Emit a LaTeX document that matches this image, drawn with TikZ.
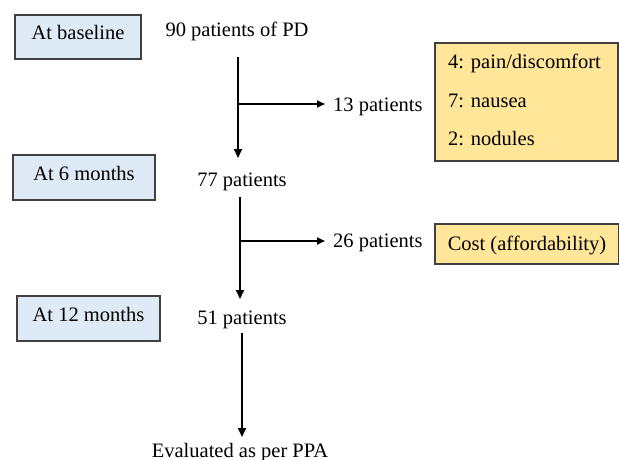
\documentclass[tikz,border=0pt]{standalone}
\usepackage{fontspec}
\setmainfont{Liberation Serif}
\usetikzlibrary{arrows.meta}
\definecolor{bluefill}{HTML}{DEEAF6}
\definecolor{yellowfill}{HTML}{FFE699}
\definecolor{edgegray}{HTML}{404040}
\begin{document}
\begin{tikzpicture}[x=1pt,y=-1pt,
  txt/.style={inner sep=0pt, font=\fontsize{20.5}{24}\selectfont, anchor=base},
  stagebox/.style={draw=edgegray, line width=1.3pt, fill=bluefill, inner sep=0pt,
    font=\fontsize{20.5}{24}\selectfont, text height=12pt, text depth=6pt},
  reasonbox/.style={draw=edgegray, line width=1.3pt, fill=yellowfill, inner sep=0pt,
    font=\fontsize{20.5}{24}\selectfont},
  arr/.style={line width=1.8pt, -{Triangle[length=9pt,width=8pt]}},
  branch/.style={line width=1.8pt, -{Triangle[length=8pt,width=7pt]}}
]
\useasboundingbox (0,0) rectangle (619,460);

% stage boxes
\node[stagebox, minimum width=126pt, minimum height=44pt] (s0) at (78,37) {At baseline};
\node[stagebox, minimum width=142pt, minimum height=45pt] (s6) at (84,177.5) {At 6 months};
\node[stagebox, minimum width=143pt, minimum height=45pt] (s12) at (88.5,318.5) {At 12 months};

% reason boxes
\node[reasonbox, minimum width=183pt, minimum height=118pt] (r1) at (526.5,102) {};
\node[txt, anchor=base west] (r1a) at (448,69) {4: pain/discomfort};
\node[txt, anchor=base west] (r1b) at (448,107) {7: nausea};
\node[txt, anchor=base west] (r1c) at (448,145) {2: nodules};
\node[reasonbox, minimum width=184pt, minimum height=40pt, text height=15pt, text depth=3pt] (r2) at (527,244) {Cost (affordability)};

% patient counts
\node[txt] (n90) at (237,37) {90 patients of PD};
\node[txt] (n77) at (242,186) {77 patients};
\node[txt] (n51) at (242,324) {51 patients};
\node[txt, anchor=base west] (n13) at (333,112) {13 patients};
\node[txt, anchor=base west] (n26) at (333,247) {26 patients};
\node[txt] (nev) at (240,457) {Evaluated as per PPA};

% connector points
\coordinate (a1s) at (238,57);
\coordinate (a1e) at (238,158);
\coordinate (b1s) at (238,104);
\coordinate (b1e) at (325,104);
\coordinate (a2s) at (240,197);
\coordinate (a2e) at (240,299);
\coordinate (b2s) at (240,241);
\coordinate (b2e) at (325,241);
\coordinate (a3s) at (242,333);
\coordinate (a3e) at (242,437);

\draw[arr] (a1s) -- (a1e);
\draw[branch] (b1s) -- (b1e);
\draw[arr] (a2s) -- (a2e);
\draw[branch] (b2s) -- (b2e);
\draw[arr] (a3s) -- (a3e);
\end{tikzpicture}
\end{document}
